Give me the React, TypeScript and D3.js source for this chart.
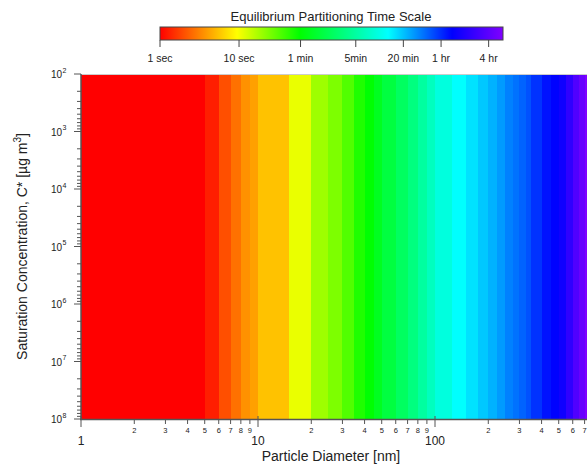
import { scaleLog, scaleLinear, range } from 'd3';

const width = 587;
const height = 468;

// particle diameter bin edges [nm]
const diameterEdges = [1, 2, 3, 4, 5, 6, 7, 8, 9, 10, 15, 20, 25, 30, 35, 40, 45, 50, 60, 70, 80, 90, 100,
  125, 150, 175, 200, 225, 250, 275, 300, 325, 350, 400, 450, 500, 550, 600, 650, 700, 750];

// equilibrium partitioning time per diameter bin [s]
const timeSeconds = [0.4, 0.5, 0.7, 0.9, 1.3, 2.0, 2.7, 3.6, 4.1, 5.5, 11, 19, 24, 33, 47, 60, 81,
  112, 155, 212, 295, 400, 550, 760, 950, 1150, 1350, 1600, 1940, 2150, 2400, 2750, 3450, 4350,
  4900, 5900, 8600, 12500, 16600, 21900];

const cStarDomain = [1e2, 1e8];
const cStarExponents = [2, 3, 4, 5, 6, 7, 8];

const timeTicks = [1, 10, 60, 300, 1200, 3600, 14400];
const timeTickLabels = ['1 sec', '10 sec', '1 min', '5min', '20 min', '1 hr', '4 hr'];

// colour stops in log10(seconds)
const colorStops = [0, 0.975, 1.77, 2.886, 3.696, 4.34];
const colorValues = ['#ff0000', '#ffff00', '#00ff00', '#00ffff', '#0000ff', '#8000ff'];

const font = '"Liberation Sans", Arial, sans-serif';

function App() {
  const plot = { left: 81, top: 74, bottom: 419 };

  const xScale = scaleLog().domain([1, 1000]).range([plot.left, plot.left + 3 * 177]);
  const yScale = scaleLog().domain(cStarDomain).range([plot.top, plot.bottom]);

  const color = scaleLinear<string>().domain(colorStops).range(colorValues).clamp(true);
  const cb = { left: 160, right: 503, top: 27, bottom: 40 };
  const cbScale = scaleLinear().domain([0, 4.34]).range([cb.left, cb.right]);

  const cells = timeSeconds.map((t, i) => ({ x0: diameterEdges[i], x1: diameterEdges[i + 1], t }));

  const xMinor: number[] = [];
  [1, 10, 100].forEach(dec => range(2, 10).forEach(k => { if (k * dec <= 750) xMinor.push(k * dec); }));
  const yMinor: number[] = [];
  range(2, 8).forEach(n => range(2, 10).forEach(k => yMinor.push(k * Math.pow(10, n))));

  const axisColor = '#555';
  const textColor = '#222';

  return (
    <svg width={width} height={height} style={{ position: 'absolute', left: 0, top: 0 }} fontFamily={font}>
      <defs>
        <linearGradient id="cbar" x1="0" x2="1" y1="0" y2="0">
          {colorStops.map((s, i) => (
            <stop key={i} offset={`${(s / 4.34) * 100}%`} stopColor={colorValues[i]} />
          ))}
        </linearGradient>
      </defs>

      {/* heatmap */}
      <g shapeRendering="crispEdges">
        {cells.map((c, i) => (
          <rect key={i}
            x={Math.round(xScale(c.x0))} y={plot.top}
            width={Math.round(xScale(c.x1)) - Math.round(xScale(c.x0)) + 1}
            height={plot.bottom - plot.top}
            fill={color(Math.log10(c.t))} />
        ))}
      </g>
      <line x1={plot.left} x2={width} y1={plot.top + 0.5} y2={plot.top + 0.5} stroke="#ccc" />

      {/* y axis */}
      <line x1={plot.left} x2={plot.left} y1={plot.top} y2={plot.bottom + 1} stroke={axisColor} strokeWidth={1.5} />
      {cStarExponents.map(n => (
        <g key={n} transform={`translate(0,${yScale(Math.pow(10, n))})`}>
          <line x1={plot.left - 7} x2={plot.left} stroke={axisColor} />
          <text x={62} y={4} textAnchor="end" fontSize={10} fill={textColor}>10</text>
          <text x={62.5} y={-1.5} fontSize={7} fill={textColor}>{n}</text>
        </g>
      ))}
      {yMinor.map(v => (
        <line key={v} x1={plot.left - 4} x2={plot.left} y1={yScale(v)} y2={yScale(v)} stroke={axisColor} />
      ))}
      <text transform={`translate(27,${(plot.top + plot.bottom) / 2}) rotate(-90)`} textAnchor="middle"
        fontSize={14} fill={textColor}>
        Saturation Concentration, C* [µg m<tspan dy={-6} fontSize={10}>3</tspan><tspan dy={6}>]</tspan>
      </text>

      {/* x axis */}
      <line x1={plot.left - 1} x2={width} y1={plot.bottom + 0.5} y2={plot.bottom + 0.5} stroke={axisColor} strokeWidth={1.5} />
      {[1, 10, 100].map(v => (
        <g key={v} transform={`translate(${xScale(v)},${plot.bottom})`}>
          <line y1={-3} y2={8} stroke={axisColor} />
          <text y={26} textAnchor="middle" fontSize={12} fill={textColor}>{v}</text>
        </g>
      ))}
      {xMinor.map(v => (
        <g key={v} transform={`translate(${xScale(v)},${plot.bottom})`}>
          <line y2={5} stroke={axisColor} />
          <text y={14} textAnchor="middle" fontSize={7.5} fill={textColor}>{String(v).charAt(0)}</text>
        </g>
      ))}
      <text x={331} y={461} textAnchor="middle" fontSize={14} fill={textColor}>Particle Diameter [nm]</text>

      {/* colour bar */}
      <text x={331} y={21} textAnchor="middle" fontSize={13} fill={textColor}>Equilibrium Partitioning Time Scale</text>
      <rect x={cb.left} y={cb.top} width={cb.right - cb.left} height={cb.bottom - cb.top}
        fill="url(#cbar)" stroke="#444" strokeWidth={1} />
      {timeTicks.map((t, i) => (
        <g key={t} transform={`translate(${cbScale(Math.log10(t))},${cb.bottom})`}>
          <line y2={7} stroke="#444" />
          <text y={22} textAnchor="middle" fontSize={10.5} fill={textColor}>{timeTickLabels[i]}</text>
        </g>
      ))}
    </svg>
  );
}

export default App;
